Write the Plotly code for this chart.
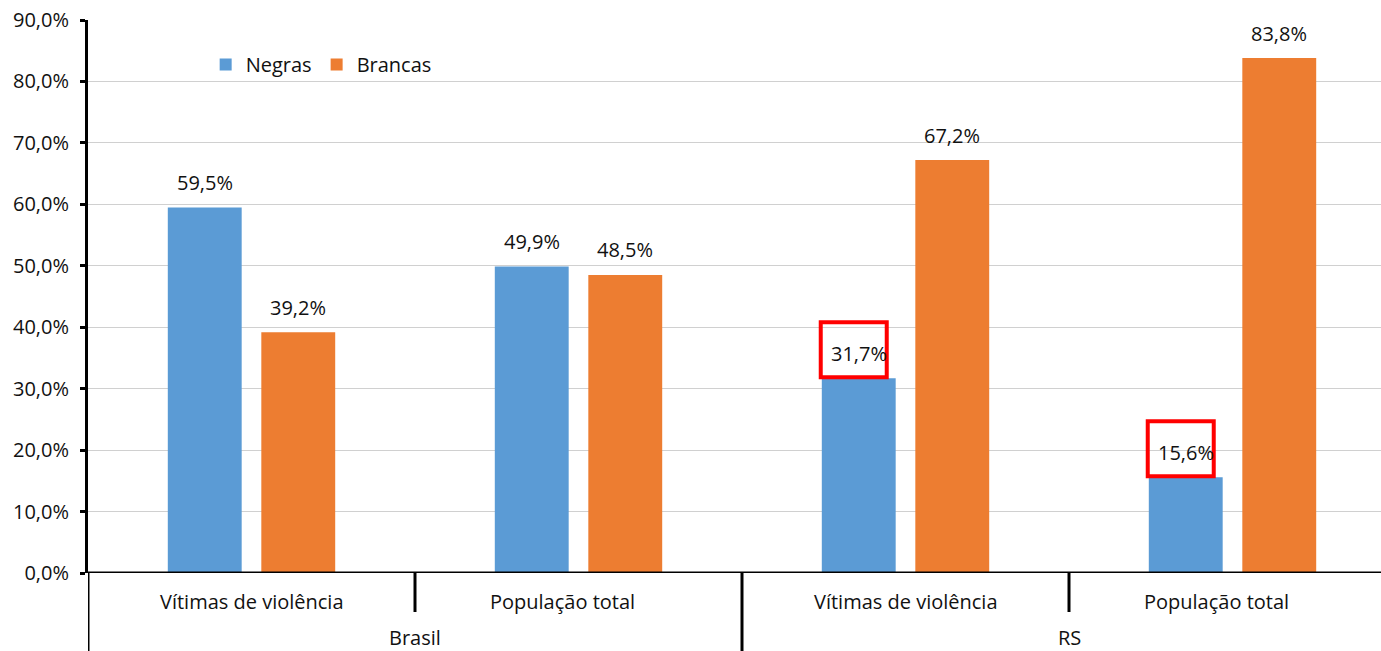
import plotly.graph_objects as go

groups = ["Brasil", "Brasil", "RS", "RS"]
subgroups = ["Vítimas de violência", "População total", "Vítimas de violência", "População total"]
negras = [59.5, 49.9, 31.7, 15.6]
brancas = [39.2, 48.5, 67.2, 83.8]
highlight_negras = [False, False, True, True]
y_ticks = [0, 10, 20, 30, 40, 50, 60, 70, 80, 90]
y_tick_labels = ["0,0%", "10,0%", "20,0%", "30,0%", "40,0%", "50,0%", "60,0%", "70,0%", "80,0%", "90,0%"]

W, H = 1381, 651
ML, MT, MB = 88, 20, 78
plot_w = W - ML
cat_px = 327.0
xmax = -0.5 + plot_w / cat_px
plot_h = H - MT - MB

FONT = "Open Sans"
TXT = "#111111"
bargap = 0.428
bargroupgap = 0.21
slot = (1 - bargap) / 2
offsets = [-slot / 2, slot / 2]

xs = list(range(len(subgroups)))


def fmt(v):
    return f"{v:.1f}".replace(".", ",") + "%"


fig = go.Figure()
fig.add_trace(go.Bar(x=xs, y=negras, name="Negras", marker=dict(color="#5B9BD5", line=dict(width=0)),
                     hoverinfo="y"))
fig.add_trace(go.Bar(x=xs, y=brancas, name="Brancas", marker=dict(color="#ED7D31", line=dict(width=0)),
                     hoverinfo="y"))

annotations = []
# data labels
for series, off in ((negras, offsets[0]), (brancas, offsets[1])):
    for i, v in enumerate(series):
        annotations.append(dict(x=i + off, y=v, xref="x", yref="y", text=fmt(v), showarrow=False,
                                yanchor="middle", xanchor="center", yshift=25,
                                font=dict(family=FONT, size=20, color=TXT)))
# subgroup labels
for i, s in enumerate(subgroups):
    shift = -16 if s.startswith("População") else 0
    annotations.append(dict(x=i, y=-(601 - (H - MB)) / plot_h, xref="x", yref="paper",
                            text=s, showarrow=False, xshift=shift,
                            font=dict(family=FONT, size=20, color=TXT),
                            yanchor="middle", xanchor="center"))
# group labels
seen = []
for g in groups:
    if g in seen:
        continue
    seen.append(g)
    idx = [i for i, gg in enumerate(groups) if gg == g]
    annotations.append(dict(x=sum(idx) / len(idx), y=-(637 - (H - MB)) / plot_h, xref="x", yref="paper",
                            text=g, showarrow=False,
                            font=dict(family=FONT, size=20, color=TXT),
                            yanchor="middle", xanchor="center"))

shapes = []
# dividers
for i in range(len(subgroups)):
    xpos = i - 0.5
    full = (i == 0) or (groups[i] != groups[i - 1])
    bottom = -(H - (H - MB)) / plot_h if full else -(612 - (H - MB)) / plot_h
    shapes.append(dict(type="line", xref="x", yref="paper", x0=xpos, x1=xpos, y0=0, y1=bottom,
                       line=dict(color="black", width=3)))
# highlight boxes
for i, (v, h) in enumerate(zip(negras, highlight_negras)):
    if h:
        shapes.append(dict(type="rect", xref="x", yref="y", xsizemode="pixel", ysizemode="pixel",
                           xanchor=i + offsets[0], yanchor=v, x0=-38, x1=28, y0=1, y1=56,
                           line=dict(color="#FF0000", width=4)))
# x axis baseline
shapes.append(dict(type="line", xref="paper", yref="y", x0=0, x1=1, y0=0, y1=0,
                   line=dict(color="black", width=3)))

fig.update_layout(
    width=W, height=H,
    margin=dict(l=ML, r=0, t=MT, b=MB, pad=0),
    paper_bgcolor="white", plot_bgcolor="white",
    barmode="group", bargap=bargap, bargroupgap=bargroupgap,
    font=dict(family=FONT, size=20, color=TXT),
    showlegend=True,
    legend=dict(orientation="h", x=0.091, y=0.955, xanchor="left", yanchor="top",
                font=dict(family=FONT, size=20, color=TXT), bgcolor="rgba(0,0,0,0)"),
    xaxis=dict(range=[-0.5, xmax], showticklabels=False, showgrid=False, zeroline=False,
               showline=False, ticks=""),
    yaxis=dict(range=[0, 90], tickvals=y_ticks, ticktext=y_tick_labels,
               showgrid=True, gridcolor="#D0D0D0", gridwidth=1,
               showline=True, linecolor="black", linewidth=3,
               ticks="outside", ticklen=5, tickwidth=3, tickcolor="black",
               ticklabelstandoff=7, zeroline=False,
               tickfont=dict(family=FONT, size=20, color=TXT)),
    annotations=annotations,
    shapes=shapes,
)

fig.write_html("out.html")
